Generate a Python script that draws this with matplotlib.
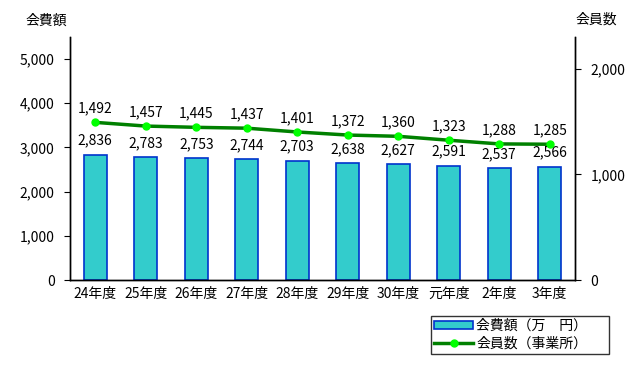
import matplotlib.pyplot as plt

plt.rcParams['font.family'] = ['Noto Sans CJK JP', 'DejaVu Sans']

# data
years = ['24年度', '25年度', '26年度', '27年度', '28年度',
         '29年度', '30年度', '元年度', '2年度', '3年度']
fees = [2836, 2783, 2753, 2744, 2703, 2638, 2627, 2591, 2537, 2566]
members = [1492, 1457, 1445, 1437, 1401, 1372, 1360, 1323, 1288, 1285]

fig = plt.figure(figsize=(6.44, 3.66), dpi=100)
ax = fig.add_axes([70 / 644, 1 - 280 / 366, 505 / 644, 243 / 366])
ax2 = ax.twinx()

x = range(len(years))
bars = ax.bar(x, fees, width=0.46, color='#33CCCC', edgecolor='#0033CC',
              linewidth=1.2, label='会費額（万　円）', zorder=2)
line, = ax2.plot(x, members, color='#008000', linewidth=2.5, marker='o',
                 markersize=5, markerfacecolor='#00FF00',
                 markeredgecolor='#00FF00', label='会員数（事業所）', zorder=3)

ax.set_xlim(-0.5, len(years) - 0.5)
ax.set_ylim(0, 5500)
ax.set_yticks(range(0, 5001, 1000))
ax.set_yticklabels([f'{v:,}' for v in range(0, 5001, 1000)])
ax2.set_ylim(0, 2300)
ax2.set_yticks([0, 1000, 2000])
ax2.set_yticklabels(['0', '1,000', '2,000'])

ax.set_xticks(list(x))
ax.set_xticklabels(years)
ax.tick_params(axis='x', length=0, pad=5, labelsize=10)
ax.tick_params(axis='y', length=4, width=0.8, pad=7, labelsize=10)
ax2.tick_params(axis='y', length=4, width=0.8, pad=7, labelsize=10)

for a in (ax, ax2):
    a.spines['top'].set_visible(False)
    for s in ('left', 'right', 'bottom'):
        a.spines[s].set_linewidth(1.0)

for i, v in enumerate(fees):
    ax.annotate(f'{v:,}', (i, v), xytext=(0, 5), textcoords='offset points',
                ha='center', va='bottom', fontsize=10)
for i, v in enumerate(members):
    ax2.annotate(f'{v:,}', (i, v), xytext=(0, 5), textcoords='offset points',
                 ha='center', va='bottom', fontsize=10)

fig.text(26 / 644, 1 - 21 / 366, '会費額', fontsize=10, va='center')
fig.text(575 / 644, 1 - 20 / 366, '会員数', fontsize=10, va='center')

leg = fig.legend(handles=[bars, line], loc='lower left',
                 bbox_to_anchor=(431 / 644, 1 - 354 / 366, 178 / 644, 41 / 366),
                 mode='expand', fontsize=10, frameon=True, fancybox=False,
                 borderpad=0.25, labelspacing=0.25, handlelength=2.8,
                 handleheight=0.5, handletextpad=0.2, borderaxespad=0)
leg.get_frame().set_edgecolor('black')
leg.get_frame().set_linewidth(1.0)
leg._legend_box.align = 'left'

fig.savefig('out.png', dpi=100)
